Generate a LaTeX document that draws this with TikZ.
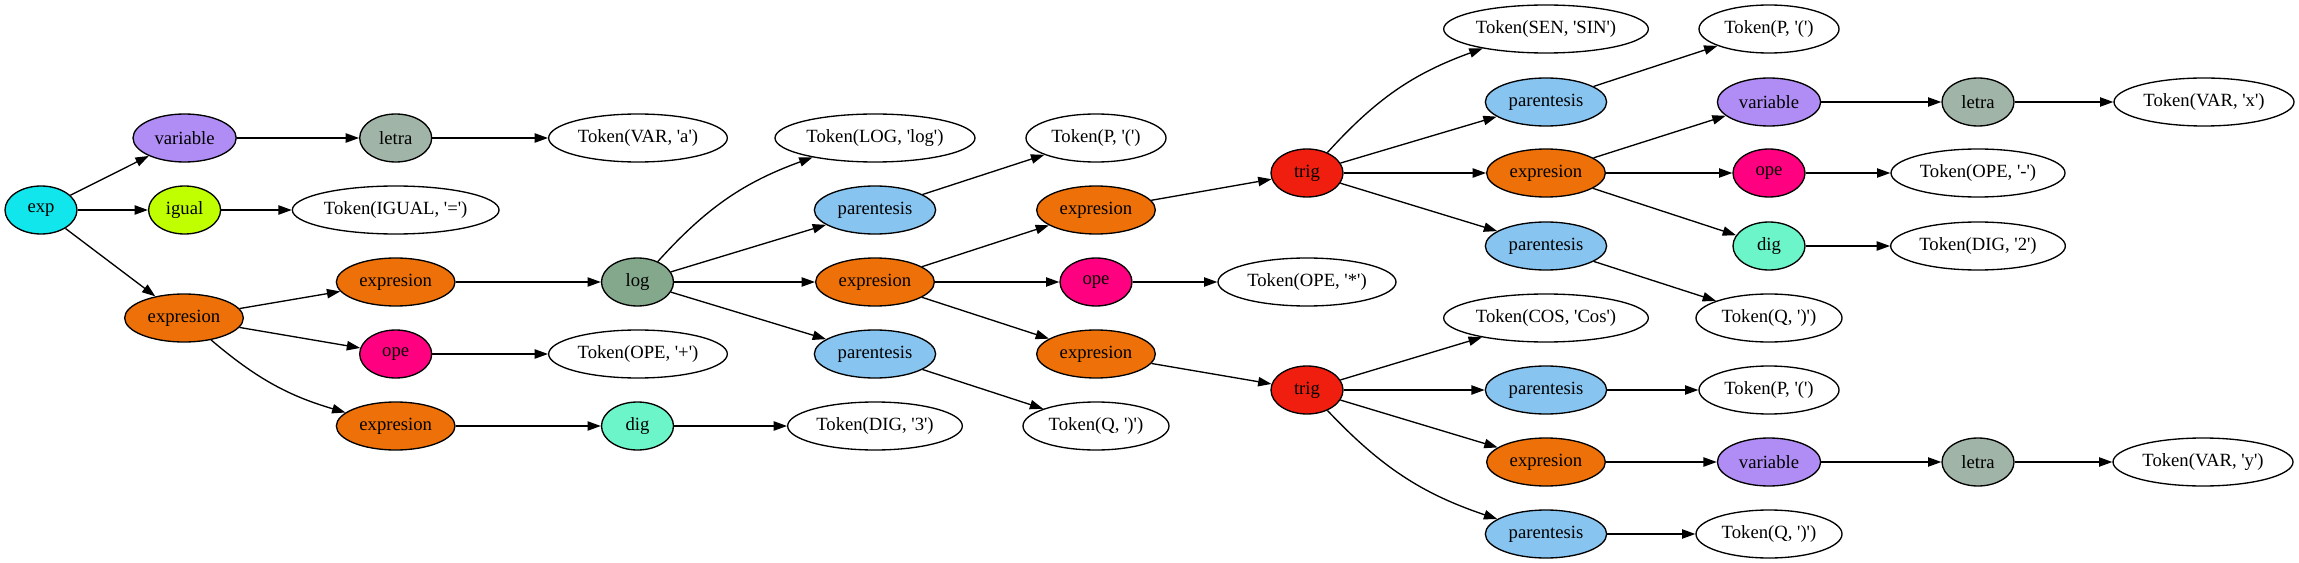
\documentclass[tikz,border=0pt]{standalone}
\usepackage{fontspec}
\newfontfamily\gv{Liberation Serif}
\usetikzlibrary{shapes.geometric,arrows.meta}
\definecolor{expc}{RGB}{16,230,236}
\definecolor{varc}{RGB}{176,140,245}
\definecolor{igc}{RGB}{192,255,0}
\definecolor{exprc}{RGB}{238,112,8}
\definecolor{letc}{RGB}{160,180,168}
\definecolor{opec}{RGB}{255,0,128}
\definecolor{digc}{RGB}{108,245,200}
\definecolor{logc}{RGB}{132,168,140}
\definecolor{parc}{RGB}{135,196,240}
\definecolor{trigc}{RGB}{240,30,14}
\begin{document}
\begin{tikzpicture}[x=0.75pt,y=-0.75pt,
  nd/.style={ellipse,draw,line width=1pt,inner sep=0pt,minimum height=36pt,
    font=\gv\fontsize{14pt}{16pt}\selectfont},
  sm/.style={nd,minimum width=54pt,fill=#1},
  vr/.style={nd,minimum width=77.4pt,fill=varc},
  ex/.style={nd,minimum width=89pt,fill=exprc},
  pa/.style={nd,minimum width=91pt,fill=parc},
  tk/.style={nd,minimum width=#1,fill=white},
  arr/.style={line width=1pt,-{Triangle[length=10pt,width=7pt]}}
]
\useasboundingbox (0,0) rectangle (2299,563);
% column 1
\node[sm=expc] (exp) at (41,210) {exp};
% column 2
\node[vr] (var1) at (184.6,138) {variable};
\node[sm=igc] (ig) at (184.6,210) {igual};
\node[ex] (exL) at (184,318) {expresion};
% column 3
\node[sm=letc] (let1) at (395.7,138) {letra};
\node[tk=155pt] (tIG) at (395.7,210) {Token(IGUAL, '=')};
\node[ex] (ex2) at (395.7,282) {expresion};
\node[sm=opec] (ope1) at (395.7,354) {ope};
\node[ex] (ex3) at (395.7,426) {expresion};
% column 4
\node[tk=134pt] (tVa) at (638,138) {Token(VAR, 'a')};
\node[sm=logc] (log) at (637.5,282) {log};
\node[tk=134pt] (tOPp) at (638,354) {Token(OPE, '+')};
\node[sm=digc] (dig1) at (637.5,426) {dig};
% column 5
\node[tk=150pt] (tLOG) at (875,138) {Token(LOG, 'log')};
\node[pa] (par1) at (875,210) {parentesis};
\node[ex] (exM) at (875,282) {expresion};
\node[pa] (par2) at (875,354) {parentesis};
\node[tk=131pt] (tD3) at (875,426) {Token(DIG, '3')};
% column 6
\node[tk=105pt] (tP1) at (1096,138) {Token(P, '(')};
\node[ex] (exA) at (1096,210) {expresion};
\node[sm=opec] (opeM) at (1096,282) {ope};
\node[ex] (exB) at (1096,354) {expresion};
\node[tk=109.5pt] (tQ1) at (1096,426) {Token(Q, ')')};
% column 7
\node[sm=trigc] (trig1) at (1307,173) {trig};
\node[tk=133.5pt] (tOPs) at (1307,282) {Token(OPE, '*')};
\node[sm=trigc] (trig2) at (1307,390) {trig};
% column 8
\node[tk=153.5pt] (tSEN) at (1546,29) {Token(SEN, 'SIN')};
\node[pa] (par3) at (1546,102) {parentesis};
\node[ex] (exC) at (1546,173) {expresion};
\node[pa] (par4) at (1546,246) {parentesis};
\node[tk=153.5pt] (tCOS) at (1546,318) {Token(COS, 'Cos')};
\node[pa] (par5) at (1546,390) {parentesis};
\node[ex] (exD) at (1546,462) {expresion};
\node[pa] (par6) at (1546,534) {parentesis};
% column 9
\node[tk=105pt] (tP2) at (1769,29) {Token(P, '(')};
\node[vr] (var2) at (1769,102) {variable};
\node[sm=opec] (ope2) at (1769,173) {ope};
\node[sm=digc] (dig2) at (1769,246) {dig};
\node[tk=109.5pt] (tQ2) at (1769,318) {Token(Q, ')')};
\node[tk=105pt] (tP3) at (1769,390) {Token(P, '(')};
\node[vr] (var3) at (1769,462) {variable};
\node[tk=109.5pt] (tQ3) at (1769,534) {Token(Q, ')')};
% column 10
\node[sm=letc] (let2) at (1978,102) {letra};
\node[tk=130.5pt] (tOPm) at (1978,173) {Token(OPE, '-')};
\node[tk=131pt] (tD2) at (1978,246) {Token(DIG, '2')};
\node[sm=letc] (let3) at (1978,462) {letra};
% column 11
\node[tk=135pt] (tVx) at (2204,102) {Token(VAR, 'x')};
\node[tk=135pt] (tVy) at (2203,462) {Token(VAR, 'y')};
% edges
\draw[arr] (exp) -- (var1);
\draw[arr] (exp) -- (ig);
\draw[arr] (exp) -- (exL);
\draw[arr] (var1) -- (let1);
\draw[arr] (let1) -- (tVa);
\draw[arr] (ig) -- (tIG);
\draw[arr] (exL) -- (ex2);
\draw[arr] (exL) -- (ope1);
\draw[arr] (exL) to[bend right=12] (ex3);
\draw[arr] (ex2) -- (log);
\draw[arr] (ope1) -- (tOPp);
\draw[arr] (ex3) -- (dig1);
\draw[arr] (dig1) -- (tD3);
\draw[arr] (log) to[bend left=14] (tLOG);
\draw[arr] (log) -- (par1);
\draw[arr] (log) -- (exM);
\draw[arr] (log) -- (par2);
\draw[arr] (par1) -- (tP1);
\draw[arr] (exM) -- (exA);
\draw[arr] (exM) -- (opeM);
\draw[arr] (exM) -- (exB);
\draw[arr] (par2) -- (tQ1);
\draw[arr] (opeM) -- (tOPs);
\draw[arr] (exA) -- (trig1);
\draw[arr] (exB) -- (trig2);
\draw[arr] (trig1) to[bend left=14] (tSEN);
\draw[arr] (trig1) -- (par3);
\draw[arr] (trig1) -- (exC);
\draw[arr] (trig1) -- (par4);
\draw[arr] (par3) -- (tP2);
\draw[arr] (exC) -- (var2);
\draw[arr] (exC) -- (ope2);
\draw[arr] (exC) -- (dig2);
\draw[arr] (par4) -- (tQ2);
\draw[arr] (var2) -- (let2);
\draw[arr] (let2) -- (tVx);
\draw[arr] (ope2) -- (tOPm);
\draw[arr] (dig2) -- (tD2);
\draw[arr] (trig2) -- (tCOS);
\draw[arr] (trig2) -- (par5);
\draw[arr] (trig2) -- (exD);
\draw[arr] (trig2) to[bend right=14] (par6);
\draw[arr] (par5) -- (tP3);
\draw[arr] (exD) -- (var3);
\draw[arr] (var3) -- (let3);
\draw[arr] (let3) -- (tVy);
\draw[arr] (par6) -- (tQ3);
\end{tikzpicture}
\end{document}
